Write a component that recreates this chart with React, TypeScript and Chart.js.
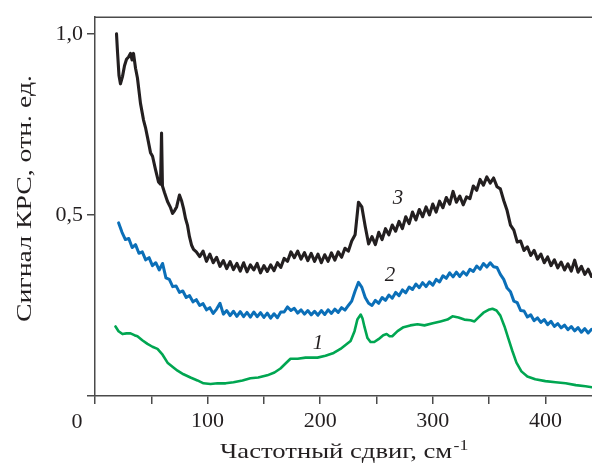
import { useEffect, useRef } from 'react';
import { Chart, registerables } from 'chart.js';
Chart.register(...registerables);

// Shared wavenumber grid (cm^-1) for the noisy spectra
const GRID = [
  21, 24, 27, 30, 33, 36, 39, 42, 45, 48,
  51, 54, 57, 60, 63, 66, 69, 72, 75, 78,
  81, 84, 87, 90, 93, 96, 99, 102, 105, 108,
  111, 114, 117, 120, 123, 126, 129, 132, 135, 138,
  141, 144, 147, 150, 153, 156, 159, 162, 165, 168,
  171, 174, 177, 180, 183, 186, 189, 192, 195, 198,
  201, 204, 207, 210, 213, 216, 219, 222, 225, 228,
  231, 234, 237, 240, 243, 246, 249, 252, 255, 258,
  261, 264, 267, 270, 273, 276, 279, 282, 285, 288,
  291, 294, 297, 300, 303, 306, 309, 312, 315, 318,
  321, 324, 327, 330, 333, 336, 339, 342, 345, 348,
  351, 354, 357, 360, 363, 366, 369, 372, 375, 378,
  381, 384, 387, 390, 393, 396, 399, 402, 405, 408,
  411, 414, 417, 420, 423, 426, 429, 432, 435, 438,
  441,
];

// Spectrum 3 (black): low-frequency head, then values on GRID from 90
const BLACK_HEAD_X = [
  19.1, 20.0, 21.3, 22.6, 24.4, 26.2, 28.0, 29.8, 31.5, 32.9,
  34.2, 36.0, 37.7, 40.4, 43.1, 44.8, 46.6, 49.3, 51.1, 53.7,
  56.4, 58.2, 59.1, 59.9, 61.7, 64.4, 67.1, 68.9, 70.7, 72.5,
  75.0, 76.8, 78.6, 80.4, 82.1, 83.9, 85.7, 87.5,
];
const BLACK_HEAD_Y = [
  1.000, 0.950, 0.885, 0.862, 0.882, 0.912, 0.930, 0.936, 0.946, 0.928,
  0.946, 0.905, 0.878, 0.808, 0.762, 0.742, 0.715, 0.672, 0.662, 0.626,
  0.591, 0.585, 0.726, 0.580, 0.562, 0.537, 0.520, 0.504, 0.512, 0.522,
  0.555, 0.540, 0.518, 0.490, 0.472, 0.440, 0.417, 0.405,
];
const BLACK_TAIL_START = 90;
const BLACK_TAIL_Y = [
  0.398, 0.385, 0.400, 0.372, 0.392, 0.368, 0.383, 0.358, 0.374, 0.352,
  0.371, 0.349, 0.366, 0.345, 0.368, 0.343, 0.362, 0.348, 0.366, 0.340,
  0.360, 0.344, 0.362, 0.346, 0.368, 0.355, 0.380, 0.372, 0.398, 0.382,
  0.400, 0.378, 0.396, 0.374, 0.394, 0.372, 0.392, 0.368, 0.390, 0.372,
  0.395, 0.375, 0.398, 0.383, 0.408, 0.400, 0.428, 0.445, 0.535, 0.522,
  0.468, 0.420, 0.440, 0.418, 0.452, 0.432, 0.462, 0.445, 0.472, 0.455,
  0.482, 0.462, 0.495, 0.476, 0.508, 0.486, 0.515, 0.495, 0.522, 0.500,
  0.530, 0.508, 0.538, 0.520, 0.548, 0.530, 0.565, 0.535, 0.552, 0.528,
  0.550, 0.545, 0.580, 0.568, 0.598, 0.582, 0.605, 0.588, 0.602, 0.578,
  0.572, 0.540, 0.512, 0.472, 0.458, 0.425, 0.428, 0.402, 0.412, 0.388,
  0.402, 0.378, 0.392, 0.368, 0.384, 0.360, 0.376, 0.354, 0.370, 0.348,
  0.365, 0.345, 0.375, 0.342, 0.358, 0.336, 0.350, 0.330,
];

// Spectrum 2 (blue): values on GRID
const BLUE_Y = [
  0.478, 0.452, 0.432, 0.435, 0.410, 0.418, 0.394, 0.398, 0.376, 0.382,
  0.360, 0.368, 0.348, 0.366, 0.326, 0.322, 0.302, 0.304, 0.286, 0.290,
  0.272, 0.277, 0.260, 0.266, 0.250, 0.255, 0.238, 0.244, 0.228, 0.240,
  0.256, 0.226, 0.236, 0.222, 0.234, 0.220, 0.233, 0.219, 0.231, 0.218,
  0.232, 0.219, 0.230, 0.217, 0.229, 0.215, 0.227, 0.216, 0.232, 0.232,
  0.246, 0.236, 0.242, 0.229, 0.238, 0.226, 0.236, 0.224, 0.234, 0.223,
  0.236, 0.225, 0.238, 0.228, 0.240, 0.231, 0.244, 0.237, 0.250, 0.262,
  0.290, 0.314, 0.300, 0.272, 0.256, 0.250, 0.264, 0.256, 0.272, 0.264,
  0.279, 0.270, 0.286, 0.277, 0.293, 0.285, 0.301, 0.294, 0.309, 0.299,
  0.313, 0.302, 0.315, 0.306, 0.322, 0.315, 0.332, 0.325, 0.340, 0.329,
  0.342, 0.330, 0.343, 0.334, 0.350, 0.344, 0.359, 0.350, 0.366, 0.356,
  0.368, 0.357, 0.355, 0.336, 0.322, 0.298, 0.288, 0.262, 0.258, 0.236,
  0.235, 0.218, 0.224, 0.208, 0.216, 0.203, 0.211, 0.197, 0.206, 0.192,
  0.200, 0.188, 0.196, 0.183, 0.192, 0.180, 0.189, 0.176, 0.186, 0.174,
  0.184,
];

// Spectrum 1 (green)
const GREEN_X = [
  18.2, 20.9, 24.4, 28.0, 31.5, 35.0, 37.7, 42.0, 46.6, 51.0,
  55.5, 60.0, 64.4, 68.8, 73.3, 78.6, 84.8, 91.0, 96.4, 102.6,
  108.8, 116.0, 123.0, 131.0, 138.0, 145.0, 153.0, 159.4, 164.7, 169.0,
  173.6, 180.0, 187.0, 197.6, 204.7, 212.0, 218.0, 222.5, 227.0, 230.5,
  233.0, 236.0, 237.6, 239.4, 242.0, 244.7, 248.0, 251.8, 256.0, 259.0,
  261.6, 264.0, 268.7, 274.0, 280.0, 286.4, 292.6, 300.0, 306.8, 313.0,
  317.5, 322.8, 328.0, 333.5, 337.0, 340.6, 345.0, 349.5, 353.0, 356.6,
  360.0, 363.7, 367.0, 370.6, 374.3, 378.7, 384.0, 391.0, 400.0, 409.0,
  418.0, 427.0, 435.6, 442.0,
];
const GREEN_Y = [
  0.192, 0.179, 0.171, 0.173, 0.173, 0.168, 0.165, 0.154, 0.144, 0.136,
  0.130, 0.114, 0.092, 0.081, 0.070, 0.060, 0.051, 0.043, 0.035, 0.033,
  0.035, 0.035, 0.038, 0.043, 0.049, 0.051, 0.057, 0.065, 0.076, 0.089,
  0.103, 0.103, 0.106, 0.106, 0.111, 0.119, 0.130, 0.141, 0.152, 0.179,
  0.211, 0.225, 0.214, 0.190, 0.160, 0.149, 0.149, 0.157, 0.168, 0.171,
  0.165, 0.165, 0.179, 0.190, 0.195, 0.198, 0.195, 0.201, 0.206, 0.211,
  0.220, 0.217, 0.211, 0.209, 0.206, 0.217, 0.230, 0.238, 0.241, 0.236,
  0.222, 0.192, 0.160, 0.125, 0.092, 0.068, 0.054, 0.046, 0.041, 0.038,
  0.035, 0.030, 0.027, 0.024,
];

// Curve number labels: [text, x, y]
const CURVE_LABELS: [string, number, number][] = [
  ['3', 269, 0.545],
  ['2', 262, 0.333],
  ['1', 198, 0.146],
];

const X_MIN = 0;
const X_MAX = 441.4;
const Y_MIN = 0;
const Y_MAX = 1.046;
const X_TITLE = 'Частотный сдвиг, см';
const X_TITLE_SUP = '-1';
const Y_TITLE = 'Сигнал КРС, отн. ед.';

const AXIS_COLOR = '#4a4a4a';
const TEXT_COLOR = '#231f20';
const SERIF = '"Liberation Serif", "DejaVu Serif", serif';

export default function App() {
  const ref = useRef<HTMLCanvasElement | null>(null);

  useEffect(() => {
    document.body.style.margin = '0';
    const canvas = ref.current;
    if (!canvas) return;

    const tailX = GRID.slice(GRID.indexOf(BLACK_TAIL_START));
    const black = BLACK_HEAD_X.map((x, i) => ({ x, y: BLACK_HEAD_Y[i] })).concat(
      tailX.map((x, i) => ({ x, y: BLACK_TAIL_Y[i] }))
    );
    const blue = GRID.map((x, i) => ({ x, y: BLUE_Y[i] }));
    const green = GREEN_X.map((x, i) => ({ x, y: GREEN_Y[i] }));

    const decor = {
      id: 'decor',
      afterDraw(chart: any) {
        const { ctx, chartArea, scales } = chart;
        const xs = scales.x;
        const ys = scales.y;
        ctx.save();
        // top frame line
        ctx.strokeStyle = AXIS_COLOR;
        ctx.lineWidth = 1.5;
        ctx.beginPath();
        ctx.moveTo(chartArea.left, chartArea.top);
        ctx.lineTo(chartArea.right, chartArea.top);
        ctx.stroke();

        ctx.fillStyle = TEXT_COLOR;
        // origin label
        ctx.font = `22px ${SERIF}`;
        ctx.textAlign = 'center';
        ctx.textBaseline = 'alphabetic';
        ctx.fillText('0', xs.getPixelForValue(0) - 18, 428);

        // x title with superscript, stretched to the reference's width
        ctx.font = `21px ${SERIF}`;
        const mainW = ctx.measureText(X_TITLE).width;
        ctx.font = `14px ${SERIF}`;
        const supW = ctx.measureText(X_TITLE_SUP).width;
        const targetW = 247;
        const sx = targetW / (mainW + supW);
        const cx = (chartArea.left + chartArea.right) / 2;
        ctx.save();
        ctx.translate(cx - targetW / 2, 458);
        ctx.scale(sx, 1);
        ctx.textAlign = 'left';
        ctx.font = `21px ${SERIF}`;
        ctx.fillText(X_TITLE, 0, 0);
        ctx.font = `14px ${SERIF}`;
        ctx.fillText(X_TITLE_SUP, mainW + 1, -8);
        ctx.restore();

        // y title rotated, stretched to the reference's length
        ctx.save();
        ctx.font = `21px ${SERIF}`;
        const yW = ctx.measureText(Y_TITLE).width;
        ctx.translate(25, 198.5);
        ctx.rotate(-Math.PI / 2);
        ctx.scale(247 / yW, 1);
        ctx.textAlign = 'center';
        ctx.textBaseline = 'middle';
        ctx.fillText(Y_TITLE, 0, 0);
        ctx.restore();

        // curve labels
        ctx.font = `italic 21px ${SERIF}`;
        ctx.textAlign = 'center';
        ctx.textBaseline = 'middle';
        CURVE_LABELS.forEach(([t, x, y]) => {
          ctx.fillText(t, xs.getPixelForValue(x), ys.getPixelForValue(y));
        });
        ctx.restore();
      },
    };

    const lineDs = (data: any[], color: string, width: number) => ({
      data,
      borderColor: color,
      backgroundColor: color,
      borderWidth: width,
      pointRadius: 0,
      tension: 0,
      borderJoinStyle: 'round' as const,
      borderCapStyle: 'round' as const,
      fill: false,
    });

    const chart = new Chart(canvas, {
      type: 'line',
      data: {
        datasets: [
          lineDs(black, '#231f20', 3.1),
          lineDs(blue, '#0b6fb8', 3),
          lineDs(green, '#00a651', 2.6),
        ],
      },
      options: {
        animation: false,
        responsive: false,
        devicePixelRatio: 1,
        parsing: false as any,
        normalized: true,
        layout: { padding: { top: 10, right: 0, left: 0, bottom: 0 } },
        plugins: {
          legend: { display: false },
          tooltip: { enabled: false },
          title: { display: false },
        },
        scales: {
          x: {
            type: 'linear',
            min: X_MIN,
            max: X_MAX,
            afterFit: (s: any) => {
              s.height = 69;
            },
            border: { display: true, color: AXIS_COLOR, width: 1.5 },
            grid: {
              drawOnChartArea: false,
              drawTicks: true,
              tickLength: 8,
              color: AXIS_COLOR,
              lineWidth: 1.5,
            },
            ticks: {
              stepSize: 50,
              includeBounds: false,
              autoSkip: false,
              maxRotation: 0,
              padding: 4,
              color: TEXT_COLOR,
              font: { family: SERIF, size: 22 },
              callback: (v: any) => (v !== 0 && v % 100 === 0 ? String(v) : ''),
            },
          },
          y: {
            type: 'linear',
            min: Y_MIN,
            max: Y_MAX,
            afterFit: (s: any) => {
              s.width = 95;
            },
            border: { display: true, color: AXIS_COLOR, width: 1.5 },
            grid: {
              drawOnChartArea: false,
              drawTicks: true,
              tickLength: 8,
              color: AXIS_COLOR,
              lineWidth: 1.5,
            },
            ticks: {
              stepSize: 0.5,
              includeBounds: false,
              padding: 4,
              color: TEXT_COLOR,
              font: { family: SERIF, size: 22 },
              callback: (v: any) => (v === 0 ? '' : Number(v).toFixed(1).replace('.', ',')),
            },
          },
        },
      },
      plugins: [decor],
    });

    return () => chart.destroy();
  }, []);

  return (
    <div style={{ width: 592, height: 465 }}>
      <canvas ref={ref} width={592} height={465} style={{ display: 'block' }} />
    </div>
  );
}
